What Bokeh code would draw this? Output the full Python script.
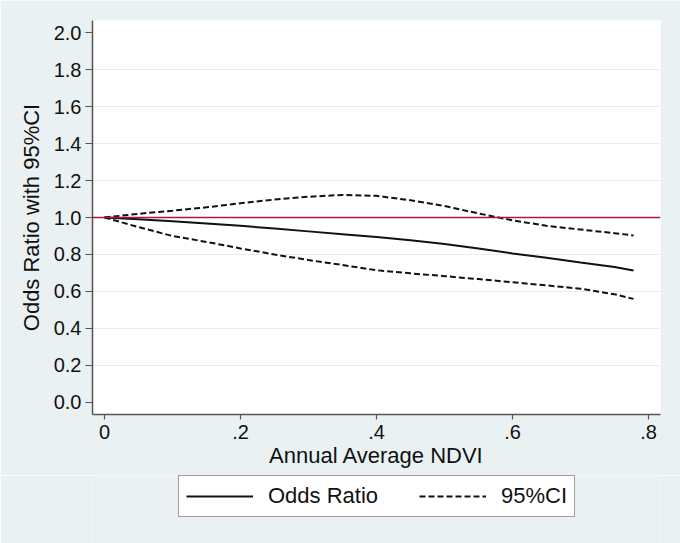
from bokeh.plotting import figure
from bokeh.models import Range1d, FixedTicker, Legend, LegendItem, Span
from bokeh.layouts import column
from bokeh.embed import file_html
from bokeh.resources import INLINE

ndvi = [0, 0.05, 0.1, 0.15, 0.2, 0.25, 0.3, 0.35, 0.4, 0.45, 0.5, 0.55, 0.6, 0.65, 0.7, 0.75, 0.778]
odds_ratio = [1.0, 0.99, 0.98, 0.968, 0.955, 0.94, 0.925, 0.91, 0.895, 0.877, 0.857, 0.833, 0.806, 0.782, 0.757, 0.733, 0.713]
ci_upper = [1.0, 1.02, 1.037, 1.055, 1.077, 1.097, 1.112, 1.122, 1.117, 1.093, 1.062, 1.022, 0.985, 0.955, 0.935, 0.915, 0.903]
ci_lower = [1.0, 0.948, 0.9, 0.868, 0.833, 0.8, 0.77, 0.743, 0.715, 0.698, 0.683, 0.667, 0.65, 0.633, 0.615, 0.585, 0.56]

x_ticks = [0, 0.2, 0.4, 0.6, 0.8]
x_tick_labels = ["0", ".2", ".4", ".6", ".8"]
y_ticks = [0.0, 0.2, 0.4, 0.6, 0.8, 1.0, 1.2, 1.4, 1.6, 1.8, 2.0]
y_tick_labels = ["0.0", "0.2", "0.4", "0.6", "0.8", "1.0", "1.2", "1.4", "1.6", "1.8", "2.0"]
ref_value = 1.0
legend_labels = ["Odds Ratio", "95%CI"]

FONT = "Liberation Sans"
BG = "#EAF1F3"
TXT = "#111111"

W = 680
H_MAIN = 475
H_LEG = 543 - H_MAIN
LEFT, RIGHT = 92, 20

p = figure(width=W, height=H_MAIN, output_backend="svg", toolbar_location=None,
           x_range=Range1d(-0.01765, 0.81765), y_range=Range1d(-0.0649, 2.0649),
           min_border_left=LEFT, min_border_right=RIGHT, min_border_top=20, min_border_bottom=H_MAIN - 414)
p.border_fill_color = BG
p.background_fill_color = "white"
p.outline_line_color = None

p.xgrid.visible = False
p.ygrid.ticker = FixedTicker(ticks=[0.2, 0.4, 0.6, 0.8, 1.2, 1.4, 1.6, 1.8])
p.ygrid.grid_line_color = "#E6EEF1"
p.ygrid.grid_line_width = 1

for ax in (p.xaxis[0], p.yaxis[0]):
    ax.axis_line_color = "#555555"
    ax.axis_line_width = 1.5
    ax.major_tick_line_color = "#555555"
    ax.major_tick_line_width = 1.2
    ax.major_tick_in = 0
    ax.minor_tick_line_color = None
    ax.major_label_text_font = FONT
    ax.major_label_text_font_size = "20px"
    ax.major_label_text_color = TXT
    ax.axis_label_text_font = FONT
    ax.axis_label_text_font_size = "22px"
    ax.axis_label_text_font_style = "normal"
    ax.axis_label_text_color = TXT

p.xaxis.ticker = FixedTicker(ticks=x_ticks)
p.xaxis.major_label_overrides = {t: l for t, l in zip(x_ticks, x_tick_labels)}
p.xaxis.major_tick_out = 5
p.xaxis.major_label_standoff = 5
p.xaxis.axis_label = "Annual Average NDVI"
p.xaxis.axis_label_standoff = 1

p.yaxis.ticker = FixedTicker(ticks=y_ticks)
p.yaxis.major_label_overrides = {t: l for t, l in zip(y_ticks, y_tick_labels)}
p.yaxis.major_tick_out = 7
p.yaxis.major_label_standoff = 4
p.yaxis.major_label_orientation = "horizontal"
p.yaxis.axis_label = "Odds Ratio with 95%CI"
p.yaxis.axis_label_standoff = 7

p.add_layout(Span(location=ref_value, dimension="width", line_color="#A8193A", line_width=1.6))

p.line(ndvi, odds_ratio, line_color="#111111", line_width=2)
p.line(ndvi, ci_upper, line_color="#111111", line_width=2, line_dash="6 3")
p.line(ndvi, ci_lower, line_color="#111111", line_width=2, line_dash="6 3")

# legend strip below the main plot
q = figure(width=W, height=H_LEG, output_backend="svg", toolbar_location=None,
           x_range=Range1d(0, 1), y_range=Range1d(0, 1),
           min_border_left=LEFT, min_border_right=RIGHT, min_border_top=0, min_border_bottom=0)
q.axis.visible = False
q.grid.visible = False
q.outline_line_color = None
q.border_fill_color = BG
q.background_fill_color = BG
# off-range placeholder renderers, only used to draw the legend swatches
g1 = q.line([-5, -4], [-5, -4], line_color="#111111", line_width=2)
g2 = q.line([-5, -4], [-5, -4], line_color="#111111", line_width=2, line_dash="6 3")

legend = Legend(items=[LegendItem(label=legend_labels[0], renderers=[g1]),
                       LegendItem(label=legend_labels[1], renderers=[g2])],
                orientation="horizontal", location=(178 - LEFT, 543 - 517),
                label_text_font=FONT, label_text_font_size="22px", label_text_color=TXT,
                glyph_width=67, glyph_height=20, label_standoff=15, spacing=41,
                padding=7, margin=0,
                border_line_color="#444444", border_line_width=1.2,
                background_fill_color="white", background_fill_alpha=1.0)
q.add_layout(legend, "center")

layout = column(p, q, spacing=0)
open("out.html", "w").write(file_html(layout, INLINE))
